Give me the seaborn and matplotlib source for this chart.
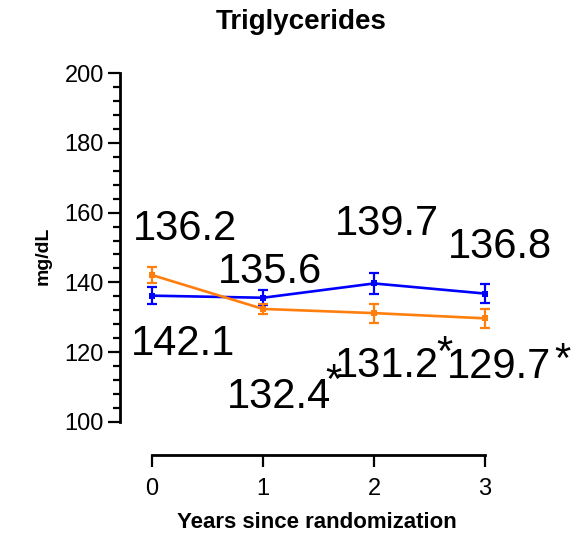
import matplotlib
matplotlib.use("Agg")
import matplotlib.pyplot as plt
import seaborn as sns
import pandas as pd
from matplotlib.ticker import MultipleLocator, FixedLocator

# ---- data ----
years = [0, 1, 2, 3]
blue_vals = [136.2, 135.6, 139.7, 136.8]
blue_err = [2.4, 2.1, 2.9, 2.8]
orange_vals = [142.1, 132.4, 131.2, 129.7]
orange_err = [2.4, 1.4, 2.7, 2.7]
blue_labels = ["136.2", "135.6", "139.7", "136.8"]
orange_labels = ["142.1", "132.4", "131.2", "129.7"]
orange_stars = ["", "*", "*", "*"]
yticks = [100, 120, 140, 160, 180, 200]
xticks = [0, 1, 2, 3]
title = "Triglycerides"
xlabel = "Years since randomization"
ylabel = "mg/dL"

# ---- layout (label positions, in data units) ----
blue_label_pos = [(0.297, 152.1), (1.063, 139.8), (2.117, 153.6), (3.135, 147.0)]
orange_label_pos = [(0.279, 119.2), (1.144, 104.0), (2.117, 112.9), (3.126, 112.6)]
star_pos = [None, (1.635, 108.3), (2.635, 116.3), (3.694, 114.3)]

BLUE = "#0000FF"
ORANGE = "#FF7F0E"

sns.set_theme(style="ticks")
plt.rcParams['font.family'] = ['Liberation Sans', 'DejaVu Sans']
plt.rcParams['text.color'] = 'black'
plt.rcParams['axes.labelcolor'] = 'black'
plt.rcParams['xtick.color'] = 'black'
plt.rcParams['ytick.color'] = 'black'

fig = plt.figure(figsize=(5.82, 5.34), dpi=100)
ax = fig.add_axes([152 / 582, 1 - 422 / 534, 333 / 582, 349 / 534])

df = pd.DataFrame({
    "year": years * 2,
    "value": blue_vals + orange_vals,
    "group": ["blue"] * 4 + ["orange"] * 4,
})
sns.lineplot(data=df, x="year", y="value", hue="group",
             palette={"blue": BLUE, "orange": ORANGE},
             marker="s", markersize=4, markeredgewidth=0,
             linewidth=1.9, legend=False, ax=ax, clip_on=False)

ax.errorbar(years, blue_vals, yerr=blue_err, fmt="none", ecolor=BLUE,
            elinewidth=1.6, capsize=3.5, capthick=1.6, clip_on=False, zorder=3)
ax.errorbar(years, orange_vals, yerr=orange_err, fmt="none", ecolor=ORANGE,
            elinewidth=1.6, capsize=3.5, capthick=1.6, clip_on=False, zorder=4)

for lab, (x, y) in zip(blue_labels, blue_label_pos):
    ax.text(x, y, lab, fontsize=30, ha="center", va="baseline", color="black")
for lab, (x, y) in zip(orange_labels, orange_label_pos):
    ax.text(x, y, lab, fontsize=30, ha="center", va="baseline", color="black")
for s, p in zip(orange_stars, star_pos):
    if s and p is not None:
        ax.text(p[0], p[1], s, fontsize=30, ha="center", va="baseline", color="black")

ax.set_xlim(0, 3)
ax.set_ylim(100, 200)
ax.xaxis.set_major_locator(FixedLocator(xticks))
ax.yaxis.set_major_locator(FixedLocator(yticks))
ax.yaxis.set_minor_locator(MultipleLocator(4))
ax.set_xticklabels([str(t) for t in xticks])
ax.set_yticklabels([str(t) for t in yticks])

for side in ["top", "right"]:
    ax.spines[side].set_visible(False)
ax.spines["left"].set_position(("outward", 23))
ax.spines["bottom"].set_position(("outward", 24))
for side in ["left", "bottom"]:
    ax.spines[side].set_linewidth(2)
    ax.spines[side].set_color("black")

ax.tick_params(axis="both", which="major", length=8.6, width=1.6,
               labelsize=17, color="black", labelcolor="black")
ax.tick_params(axis="y", which="major", pad=3)
ax.tick_params(axis="x", which="major", pad=8)
ax.tick_params(axis="y", which="minor", length=5, width=1.6, color="black")
ax.set_xlabel("")
ax.set_ylabel("")

fig.text(301 / 582, 1 - 22 / 534, title, fontsize=20, fontweight="bold",
         ha="center", va="center", color="black")
fig.text(317 / 582, 1 - 522 / 534, xlabel, fontsize=16, fontweight="bold",
         ha="center", va="center", color="black")
fig.text(43 / 582, 1 - 256 / 534, ylabel, fontsize=14, fontweight="bold",
         ha="center", va="center", rotation=90, color="black")

fig.savefig("out.png", dpi=100)
